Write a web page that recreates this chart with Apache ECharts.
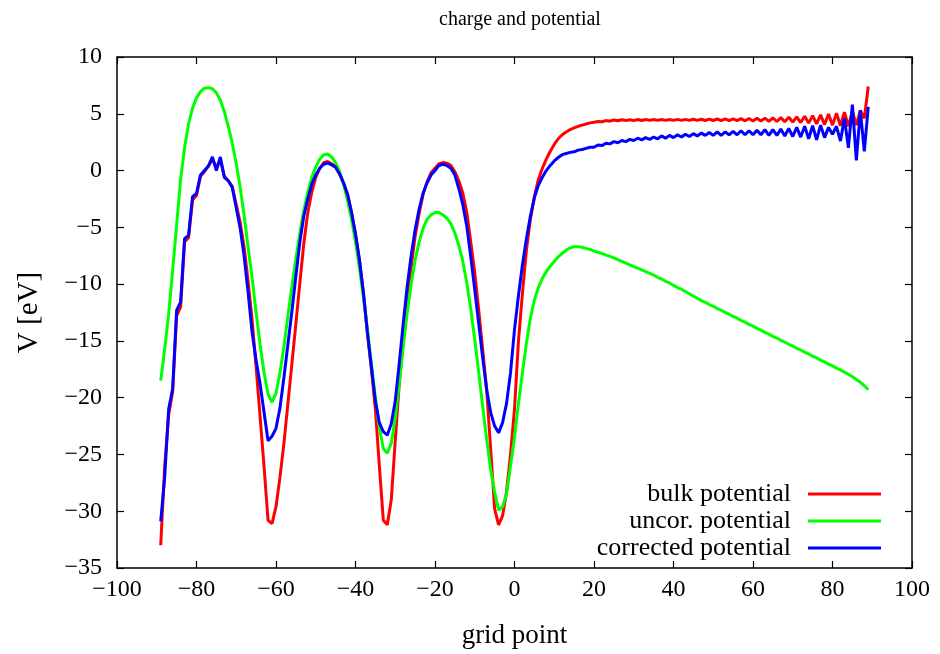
<!DOCTYPE html>
<html>
<head>
<meta charset="utf-8">
<title>charge and potential</title>
<script src="https://cdn.jsdelivr.net/npm/echarts@6/dist/echarts.min.js"></script>
<style>
  html, body { margin: 0; padding: 0; background: #fff; }
  #chart { width: 940px; height: 654px; }
</style>
</head>
<body>
<div id="chart"></div>
<script>
// grid points (x) and the three potentials
const gridPoint = [
  -89, -88, -87, -86, -85, -84, -83, -82, -81, -80, -79, -78, -77, -76, -75, -74, -73, -72, -71, -70,
  -69, -68, -67, -66, -65, -64, -63, -62, -61, -60, -59, -58, -57, -56, -55, -54, -53, -52, -51, -50,
  -49, -48, -47, -46, -45, -44, -43, -42, -41, -40, -39, -38, -37, -36, -35, -34, -33, -32, -31, -30,
  -29, -28, -27, -26, -25, -24, -23, -22, -21, -20, -19, -18, -17, -16, -15, -14, -13, -12, -11, -10,
  -9, -8, -7, -6, -5, -4, -3, -2, -1, 0, 1, 2, 3, 4, 5, 6, 7, 8, 9, 10,
  11, 12, 13, 14, 15, 16, 17, 18, 19, 20, 21, 22, 23, 24, 25, 26, 27, 28, 29, 30,
  31, 32, 33, 34, 35, 36, 37, 38, 39, 40, 41, 42, 43, 44, 45, 46, 47, 48, 49, 50,
  51, 52, 53, 54, 55, 56, 57, 58, 59, 60, 61, 62, 63, 64, 65, 66, 67, 68, 69, 70,
  71, 72, 73, 74, 75, 76, 77, 78, 79, 80, 81, 82, 83, 84, 85, 86, 87, 88, 89
]

// bulk potential (red)
const bulkPotential = [
  -33.0, -26.0, -21.5, -19.5, -12.8, -12.0, -6.3, -5.9, -2.6, -2.2, -0.5, -0.1, 0.4, 1.0, 0.3, 0.9, -0.5, -0.9, -1.4, -3.0,
  -4.6, -6.8, -9.8, -13.2, -17.3, -21.7, -26.1, -30.8, -31.1, -29.6, -27.0, -24.0, -20.5, -17.0, -13.5, -9.9, -6.4, -3.7, -1.9, -0.6,
  0.2, 0.7, 0.8, 0.6, 0.3, -0.3, -1.1, -2.1, -3.7, -5.6, -7.9, -10.8, -14.3, -17.5, -21.0, -26.0, -30.8, -31.2, -29.0, -23.8,
  -18.8, -15.0, -11.6, -8.5, -5.8, -3.8, -2.1, -1.0, -0.2, 0.2, 0.6, 0.7, 0.65, 0.45, -0.1, -0.9, -2.0, -3.7, -6.3, -9.0,
  -12.3, -15.8, -19.3, -24.5, -29.8, -31.2, -30.4, -28.3, -25.0, -21.0, -15.0, -10.8, -7.0, -4.3, -2.3, -0.8, 0.2, 1.0, 1.7, 2.3,
  2.8, 3.15, 3.4, 3.6, 3.75, 3.9, 4.0, 4.1, 4.2, 4.25, 4.32, 4.3, 4.4, 4.35, 4.45, 4.38, 4.47, 4.4, 4.48, 4.4,
  4.5, 4.41, 4.5, 4.42, 4.5, 4.42, 4.5, 4.42, 4.5, 4.42, 4.51, 4.42, 4.51, 4.42, 4.52, 4.42, 4.52, 4.41, 4.53, 4.41,
  4.54, 4.4, 4.55, 4.4, 4.56, 4.39, 4.57, 4.38, 4.58, 4.37, 4.6, 4.36, 4.62, 4.34, 4.64, 4.32, 4.66, 4.3, 4.7, 4.27,
  4.73, 4.23, 4.78, 4.18, 4.84, 4.12, 4.9, 4.05, 4.98, 4.0, 5.05, 3.95, 5.15, 3.9, 5.2, 4.0, 5.3, 4.6, 7.4
]

// uncor. potential (green)
const uncorPotential = [
  -18.5, -15.7, -12.6, -8.8, -4.8, -0.8, 2.0, 4.1, 5.5, 6.4, 6.95, 7.25, 7.3, 7.2, 6.85, 6.2, 5.2, 3.9, 2.4, 0.6,
  -1.5, -4.0, -6.8, -9.5, -12.5, -15.3, -17.8, -19.7, -20.4, -19.6, -17.8, -15.5, -12.8, -10.2, -7.8, -5.5, -3.5, -1.9, -0.6, 0.3,
  1.0, 1.4, 1.45, 1.2, 0.7, -0.1, -1.2, -2.6, -4.3, -6.3, -8.6, -11.2, -14.0, -17.0, -20.0, -22.6, -24.5, -24.9, -24.0, -21.8,
  -18.8, -15.5, -12.5, -10.0, -7.9, -6.3, -5.1, -4.3, -3.9, -3.7, -3.7, -3.9, -4.2, -4.7, -5.5, -6.6, -8.0, -9.9, -12.2, -14.9,
  -17.8, -20.8, -23.7, -26.3, -28.3, -29.9, -29.6, -28.5, -26.0, -23.5, -20.5, -17.8, -15.2, -13.0, -11.4, -10.3, -9.5, -8.9, -8.4, -8.0,
  -7.6, -7.3, -7.0, -6.8, -6.7, -6.7, -6.75, -6.85, -6.95, -7.1, -7.2, -7.3, -7.45, -7.55, -7.7, -7.85, -8.0, -8.15, -8.3, -8.45,
  -8.6, -8.75, -8.9, -9.05, -9.2, -9.4, -9.55, -9.75, -9.9, -10.1, -10.3, -10.45, -10.65, -10.85, -11.05, -11.25, -11.45, -11.6, -11.8, -11.95,
  -12.15, -12.3, -12.5, -12.65, -12.85, -13.0, -13.2, -13.35, -13.55, -13.7, -13.9, -14.05, -14.25, -14.4, -14.6, -14.75, -14.95, -15.1, -15.3, -15.45,
  -15.65, -15.8, -16.0, -16.15, -16.35, -16.5, -16.7, -16.85, -17.05, -17.2, -17.4, -17.55, -17.75, -17.95, -18.15, -18.4, -18.65, -18.95, -19.3
]

// corrected potential (blue)
const correctedPotential = [
  -30.9, -27.0, -21.0, -19.2, -12.3, -11.6, -6.0, -5.7, -2.3, -2.0, -0.4, 0.0, 0.4, 1.2, 0.0, 1.2, -0.6, -0.9, -1.5, -3.3,
  -5.1, -7.6, -10.8, -14.3, -16.7, -18.8, -21.3, -23.8, -23.4, -22.7, -20.9, -18.2, -15.3, -12.4, -9.3, -6.3, -4.0, -2.5, -1.2, -0.4,
  0.2, 0.55, 0.65, 0.5, 0.3, -0.3, -1.1, -2.1, -3.7, -5.6, -7.9, -10.8, -14.3, -17.3, -20.3, -22.2, -23.0, -23.3, -22.3, -20.3,
  -17.0, -13.5, -10.2, -7.5, -5.2, -3.4, -2.0, -1.1, -0.4, 0.0, 0.45, 0.55, 0.45, 0.2, -0.4, -1.6, -3.0, -4.9, -7.6, -10.5,
  -13.5, -16.5, -19.3, -21.3, -22.5, -23.1, -22.2, -20.5, -17.8, -14.0, -11.0, -8.3, -6.0, -4.0, -2.4, -1.3, -0.6, 0.0, 0.45, 0.85,
  1.15, 1.4, 1.5, 1.6, 1.65, 1.8, 1.85, 1.95, 2.05, 2.05, 2.25, 2.2, 2.4, 2.35, 2.55, 2.45, 2.65, 2.55, 2.75, 2.65,
  2.85, 2.7, 2.9, 2.75, 2.95, 2.8, 3.05, 2.85, 3.1, 2.9, 3.15, 2.95, 3.2, 3.0, 3.25, 3.05, 3.3, 3.1, 3.35, 3.1,
  3.4, 3.1, 3.4, 3.15, 3.45, 3.15, 3.5, 3.15, 3.5, 3.15, 3.55, 3.15, 3.6, 3.1, 3.6, 3.1, 3.65, 3.05, 3.7, 3.0,
  3.8, 2.95, 3.9, 2.8, 3.95, 2.7, 4.0, 2.9, 3.8, 3.2, 3.9, 2.6, 4.6, 2.0, 5.8, 0.9, 5.3, 1.7, 5.6
]

const xTicks = { min: -100, max: 100, interval: 20 }
const yTicks = { min: -35, max: 10, interval: 5 }

const seriesNames = ['bulk potential', 'uncor. potential', 'corrected potential']
const seriesColors = ['#ff0000', '#00ff00', '#0000ff']
const seriesValues = [bulkPotential, uncorPotential, correctedPotential]

const FONT = 'Liberation Serif'
const minus = v => String(v).replace('-', '\u2212')

const chart = echarts.init(document.getElementById('chart'))

// gnuplot style box: every side drawn, ticks pointing inward
const axisLine = { show: true, onZero: false, lineStyle: { color: '#000', width: 1.5 } }
const axisTick = { show: true, inside: true, length: 7, lineStyle: { color: '#000', width: 1.2 } }

const option = {
  animation: false,
  backgroundColor: '#fff',
  title: {
    text: 'charge and potential',
    left: 515,
    top: 5,
    textAlign: 'center',
    textStyle: { fontFamily: FONT, fontSize: 20, fontWeight: 'normal', color: '#000' }
  },
  // one legend per key line so the texts line up on the right like gnuplot
  legend: seriesNames.map((name, i) => ({
    data: [name],
    right: 59,
    top: 481 + i * 27,
    orient: 'vertical',
    align: 'right',
    padding: 0,
    icon: 'rect',
    itemWidth: 73,
    itemHeight: 3,
    selectedMode: false,
    textStyle: { fontFamily: FONT, fontSize: 26, lineHeight: 26, color: '#000', padding: [0, 12, 0, 0] }
  })),
  grid: { left: 117, right: 28, top: 57, bottom: 86, containLabel: false },
  xAxis: [
    {
      type: 'value',
      position: 'bottom',
      min: xTicks.min, max: xTicks.max, interval: xTicks.interval,
      name: 'grid point',
      nameLocation: 'middle',
      nameGap: 54,
      nameTextStyle: { fontFamily: FONT, fontSize: 27, color: '#000' },
      axisLine, axisTick,
      splitLine: { show: false },
      axisLabel: { margin: 10, fontFamily: FONT, fontSize: 24, color: '#000', formatter: minus }
    },
    {
      type: 'value',
      position: 'top',
      min: xTicks.min, max: xTicks.max, interval: xTicks.interval,
      axisLine, axisTick,
      splitLine: { show: false },
      axisLabel: { show: false }
    }
  ],
  yAxis: [
    {
      type: 'value',
      position: 'left',
      min: yTicks.min, max: yTicks.max, interval: yTicks.interval,
      name: 'V [eV]',
      nameLocation: 'middle',
      nameRotate: 90,
      nameGap: 73,
      nameTextStyle: { fontFamily: FONT, fontSize: 29, color: '#000' },
      axisLine, axisTick,
      splitLine: { show: false },
      axisLabel: { margin: 15, fontFamily: FONT, fontSize: 24, color: '#000', formatter: minus }
    },
    {
      type: 'value',
      position: 'right',
      min: yTicks.min, max: yTicks.max, interval: yTicks.interval,
      axisLine, axisTick,
      splitLine: { show: false },
      axisLabel: { show: false }
    }
  ],
  series: seriesNames.map((name, i) => ({
    name,
    type: 'line',
    xAxisIndex: 0,
    yAxisIndex: 0,
    showSymbol: false,
    symbol: 'none',
    color: seriesColors[i],
    lineStyle: { color: seriesColors[i], width: 3 },
    z: 2 + i,
    data: gridPoint.map((x, j) => [x, seriesValues[i][j]])
  }))
}

chart.setOption(option)
</script>
</body>
</html>
